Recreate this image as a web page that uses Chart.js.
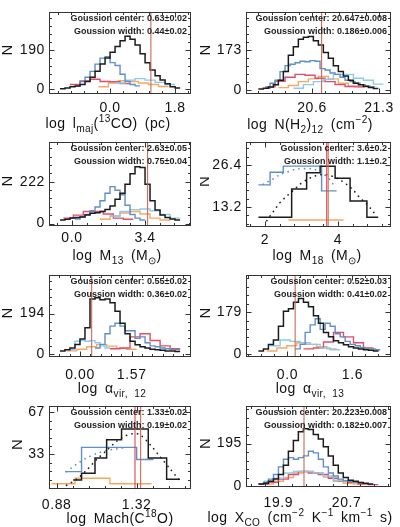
<!DOCTYPE html>
<html><head><meta charset="utf-8">
<script src="https://cdn.jsdelivr.net/npm/chart.js@4.4.0/dist/chart.umd.min.js"></script>
<style>
html,body{margin:0;padding:0;background:#fff;}
#wrap{position:relative;width:400px;height:527px;overflow:hidden;background:#fff;}
canvas{position:absolute;}
</style></head><body><div id="wrap"></div>
<script>
// ================= DATA =================
// Panel 1: log l_maj(13CO)
const p1XTicks=[0,1.8], p1XLabels=['0.0','1.8'], p1YTicks=[0,190], p1YLabels=['0','190'];
const p1BlackBins=[-1.385,0.1385], p1Black=[3,7,13,17,24,38,59,87,122,151,179,207,235,256,242,214,172,129,94,66,45,27,13,7];
const p1BlueBins=[-0.970,0.1385], p1Blue=[17,38,59,87,122,151,158,129,115,73,38,24,17];
const p1LBlueBins=[0.139,0.277], p1LBlue=[31,45,52,45,34,24];
const p1RedBins=[-1.108,0.277], p1Red=[24,41,49,38,37,28];
const p1OrangeBins=[-0.323,0.277], p1Orange=[13,31,42,38,31,24,14];
const p1VLine=[1.13];
const p1Text=['Goussion center: 0.63\u00b10.02','Goussion width: 0.44\u00b10.02'];

// Panel 2: log N(H2)_12
const p2XTicks=[20.6,21.3], p2XLabels=['20.6','21.3'], p2YTicks=[0,173], p2YLabels=['0','173'];
const p2BlackBins=[20.039,0.05225], p2Black=[3,6,12,22,41,79,150,188,220,229,233,214,195,163,137,105,79,60,41,28,22,15,9,5];
const p2BlueBins=[20.109,0.05225], p2Blue=[6,28,41,79,105,111,118,124,122,127,124,92,86,73,67,54,41,35,28,22,15,12];
const p2LBlueBins=[20.405,0.1045], p2LBlue=[6,22,35,45,67,67,50,41,24];
const p2RedBins=[20.109,0.1045], p2Red=[12,37,54,67,63,50,35,22,14,12];
const p2OrangeBins=[20.248,0.1045], p2Orange=[9,18,35,47,58,47,28,15,12];
const p2VLine=[20.70];
const p2Text=['Goussion center: 20.647\u00b10.008','Goussion width: 0.186\u00b10.006'];

// Panel 3: log M_13
const p3XTicks=[0,3.4], p3XLabels=['0.0','3.4'], p3YTicks=[0,222], p3YLabels=['0','222'];
const p3BlackBins=[-0.559,0.2329], p3Black=[19,23,29,32,35,45,55,58,64,74,93,129,161,209,265,302,298,209,121,72,45,32,24,19];
const p3BlueBins=[0.140,0.2329], p3Blue=[24,35,48,68,88,121,161,196,177,153,97,48,29,19];
const p3LBlueBins=[1.77,0.466], p3LBlue=[40,64,74,77,68,48,29];
const p3RedBins=[-0.404,0.466], p3Red=[29,45,64,64,51,29,23];
const p3OrangeBins=[1.304,0.466], p3Orange=[23,40,56,64,51,29,19];
const p3VLine=[3.52];
const p3Text=['Goussion center: 2.63\u00b10.05','Goussion width: 0.75\u00b10.04'];

// Panel 4: log M_18
const p4XTicks=[2,4], p4XLabels=['2','4'], p4YTicks=[13.2,26.4], p4YLabels=['13.2','26.4'];
const p4BlackEdges=[1.82,2.73,3.14,3.51,3.92,4.33,4.79,5.10], p4Black=[10.0,18.9,24.0,26.1,22.3,15.1,10.0];
const p4BlueEdges=[1.82,2.14,2.50,3.55,3.96], p4Blue=[20.2,24.2,26.1,18.3];
const p4OrangeEdges=[2.64,4.15], p4Orange=[9.1];
const p4FitX=[2.05,2.23,2.41,2.59,2.78,2.96,3.14,3.32,3.51,3.69,3.87,4.05,4.23,4.42,4.60,4.78,4.96,5.05];
const p4FitY=[8.9,11.8,14.6,16.6,18.5,20.4,21.8,22.8,23.4,23.4,22.8,21.8,20.4,18.5,16.1,14.2,11.8,10.3];
const p4BlueFitX=[1.95,2.18,2.41,2.64,2.87,3.10,3.32,3.55,3.78,3.92];
const p4BlueFitY=[20.4,21.8,23.4,24.4,25.2,25.3,25.2,24.0,21.8,19.4];
const p4VLine=[3.69,3.73];
const p4Text=['Goussion center: 3.6\u00b10.2','Goussion width: 1.1\u00b10.2'];

// Panel 5: log alpha_vir,12
const p5XTicks=[0,1.57], p5XLabels=['0.00','1.57'], p5YTicks=[0,194], p5YLabels=['0','194'];
const p5BlackBins=[-0.608,0.152], p5Black=[16,22,30,47,73,126,263,270,260,263,246,205,148,98,62,45,36,30,24,22,19,16,16,13];
const p5BlueBins=[0.456,0.152], p5Blue=[30,47,98,134,148,134,112,112,76,83,55,40,36,30,26,22,22];
const p5LBlueBins=[-0.304,0.152], p5LBlue=[22,62,65,62,65,55,40,30];
const p5RedBins=[0.912,0.304], p5Red=[26,30,83,98,66,40,26];
const p5OrangeBins=[-0.405,0.304], p5Orange=[16,24,36,46,39,29,24];
const p5VLine=[0.355];
const p5Text=['Goussion center: 0.55\u00b10.02','Goussion width: 0.36\u00b10.02'];

// Panel 6: log alpha_vir,13
const p6XTicks=[0,1.6], p6XLabels=['0.0','1.6'], p6YTicks=[0,179], p6YLabels=['0','179'];
const p6BlackBins=[-0.714,0.1232], p6Black=[14,23,42,61,119,183,193,221,237,221,202,164,132,93,74,58,49,40,32,27,23,19,17,14];
const p6BlueBins=[0.190,0.1232], p6Blue=[23,42,93,125,151,106,132,119,87,74,55,42,36,29,23,23,19];
const p6LBlueBins=[-0.426,0.2463], p6LBlue=[36,61,55,49,42,27,19];
const p6RedBins=[0.395,0.2463], p6Red=[23,27,52,93,74,49,27];
const p6OrangeBins=[-0.508,0.2463], p6Orange=[14,27,36,49,42,32,23];
const p6VLine=[0.19];
const p6Text=['Goussion center: 0.52\u00b10.03','Goussion width: 0.41\u00b10.02'];

// Panel 7: log Mach(C18O)
const p7XTicks=[0.88,1.32], p7XLabels=['0.88','1.32'], p7YTicks=[33,67], p7YLabels=['33','67'];
const p7BlackEdges=[0.971,1.017,1.091,1.155,1.237,1.384,1.485,1.558], p7Black=[12.1,17.7,30.0,44.8,53.5,30.0,12.8];
const p7BlueEdges=[0.926,1.017,1.320,1.412], p7Blue=[19.0,38.7,28.8];
const p7OrangeEdges=[0.852,0.981,1.173,1.402], p7Orange=[9.1,13.6,9.1];
const p7FitX=[0.935,0.990,1.045,1.100,1.155,1.210,1.265,1.302,1.338,1.393,1.448,1.503,1.558];
const p7FitY=[7.9,12.8,20.2,28.8,36.2,43.6,48.5,49.8,49.0,41.1,31.3,21.4,11.6];
const p7BlueFitX=[0.935,0.990,1.045,1.100,1.155,1.210,1.265];
const p7BlueFitY=[19.0,25.1,30.1,33.7,36.2,37.4,38.7];
const p7VLine=[1.311,1.342];
const p7Text=['Goussion center: 1.33\u00b10.02','Goussion width: 0.19\u00b10.02'];

// Panel 8: log X_CO
const p8XTicks=[19.9,20.7], p8XLabels=['19.9','20.7'], p8YTicks=[0,195], p8YLabels=['0','195'];
const p8BlackBins=[19.666,0.0585], p8Black=[11,14,23,33,54,96,160,209,249,263,259,237,216,181,139,96,61,40,28,23,18,14,11];
const p8BlueBins=[19.725,0.0585], p8Blue=[18,33,54,89,124,131,124,131,139,160,153,124,89,61,47,33,25,23,18];
const p8LBlueBins=[19.725,0.117], p8LBlue=[23,37,61,68,68,61,47,28,23,18];
const p8RedBins=[19.666,0.117], p8Red=[11,18,33,54,68,61,54,37,25,18,11,8];
const p8OrangeBins=[19.725,0.117], p8Orange=[11,23,40,61,68,61,42,23,14,11];
const p8VLine=[20.20];
const p8Text=['Goussion center: 20.223\u00b10.008','Goussion width: 0.182\u00b10.007'];

// ================= RENDERING =================
const FAM='"Liberation Sans", Arial, sans-serif';
const TS=14;      // tick label size
const TT=14;      // axis title size
const COL={black:'#1b1b1b', blue:'#5e8fc6', lblue:'#8ccaf0', red:'#e24d6c', orange:'#f6a862', vline:'#cc6a52', vred:'#e8404e'};

function uniEdges(b,n){const e=[];for(let i=0;i<=n;i++)e.push(b[0]+i*b[1]);return e;}
function stepPts(edges,counts){return edges.map((e,i)=>({x:e,y:counts[Math.min(i,counts.length-1)]}));}
function hist(edges,counts,color,w){return {data:stepPts(edges,counts),stepped:true,borderColor:color,borderWidth:w||1.4,pointRadius:0,fill:false};}
function histB(bins,counts,color,w){return hist(uniEdges(bins,counts.length),counts,color,w);}
function dots(xs,ys,color){return {data:xs.map((x,i)=>({x,y:ys[i]})),borderColor:color,borderWidth:1.7,borderDash:[0.1,5.5],borderCapStyle:'round',pointRadius:0,fill:false,tension:0.3};}

const S=(t,m)=>[t,m||0];
const BW=1.5;
const panels=[
 {col:0,ct:0,ch:135,f:{l:49,t:1,r:191,b:94},xr:[-1.69,2.24],yr:[-22,371],xt:p1XTicks,xl:p1XLabels,yt:p1YTicks,yl:p1YLabels,xly:108,ty:123,tx:108,nOff:41,
  title:[S('log l'),S('maj',-1),S('('),S('13',1),S('CO) (pc)')],text:p1Text,vl:p1VLine.map(v=>({x:v,c:COL.vline})),
  ds:[histB(p1BlackBins,p1Black,COL.black,BW),histB(p1BlueBins,p1Blue,COL.blue),histB(p1LBlueBins,p1LBlue,COL.lblue),histB(p1RedBins,p1Red,COL.red),histB(p1OrangeBins,p1Orange,COL.orange)]},
 {col:1,ct:0,ch:135,f:{l:246,t:1,r:391,b:94},xr:[19.91,21.425],yr:[-19,338],xt:p2XTicks,xl:p2XLabels,yt:p2YTicks,yl:p2YLabels,xly:108,ty:124,tx:310,nOff:40,
  title:[S('log N(H'),S('2',-1),S(')'),S('12',-1),S(' (cm'),S('\u22122',1),S(')')],text:p2Text,vl:p2VLine.map(v=>({x:v,c:COL.vline})),
  ds:[histB(p2BlackBins,p2Black,COL.black,BW),histB(p2BlueBins,p2Blue,COL.blue),histB(p2LBlueBins,p2LBlue,COL.lblue),histB(p2RedBins,p2Red,COL.red),histB(p2OrangeBins,p2Orange,COL.orange)]},
 {col:0,ct:130,ch:138,f:{l:49,t:134,r:191,b:226},xr:[-1.07,5.54],yr:[-13,431],xt:p3XTicks,xl:p3XLabels,yt:p3YTicks,yl:p3YLabels,xly:238,ty:255,tx:117,nOff:41,
  title:[S('log M'),S('13',-1),S(' (M'),S('\u2299',-1),S(')')],text:p3Text,vl:p3VLine.map(v=>({x:v,c:COL.vline})),
  ds:[histB(p3BlackBins,p3Black,COL.black,BW),histB(p3BlueBins,p3Blue,COL.blue),histB(p3LBlueBins,p3LBlue,COL.lblue),histB(p3RedBins,p3Red,COL.red),histB(p3OrangeBins,p3Orange,COL.orange)]},
 {col:1,ct:130,ch:138,f:{l:246,t:134,r:391,b:227},xr:[1.48,5.45],yr:[6.9,33.6],xt:p4XTicks,xl:p4XLabels,yt:p4YTicks,yl:p4YLabels,xly:240,ty:255,tx:317,nOff:41,
  title:[S('log M'),S('18',-1),S(' (M'),S('\u2299',-1),S(')')],text:p4Text,vl:[{x:p4VLine[0],c:COL.vred},{x:p4VLine[1],c:COL.vline}],
  ds:[hist(p4BlackEdges,p4Black,COL.black,BW),dots(p4FitX,p4FitY,COL.black),hist(p4BlueEdges,p4Blue,COL.blue),dots(p4BlueFitX,p4BlueFitY,COL.blue),hist(p4OrangeEdges,p4Orange,COL.orange)]},
 {col:0,ct:263,ch:138,f:{l:49,t:267,r:191,b:357},xr:[-0.94,3.37],yr:[-13,376],xt:p5XTicks,xl:p5XLabels,yt:p5YTicks,yl:p5YLabels,xly:375,ty:388,tx:112,nOff:41,
  title:[S('log '),S('\u03b1'),S('vir, 12',-1)],text:p5Text,vl:p5VLine.map(v=>({x:v,c:COL.vline})),
  ds:[histB(p5BlackBins,p5Black,COL.black,BW),histB(p5BlueBins,p5Blue,COL.blue),histB(p5LBlueBins,p5LBlue,COL.lblue),histB(p5RedBins,p5Red,COL.red),histB(p5OrangeBins,p5Orange,COL.orange)]},
 {col:1,ct:263,ch:138,f:{l:246,t:267,r:391,b:357},xr:[-1.02,2.55],yr:[-11.5,335],xt:p6XTicks,xl:p6XLabels,yt:p6YTicks,yl:p6YLabels,xly:375,ty:388,tx:310,nOff:40,
  title:[S('log '),S('\u03b1'),S('vir, 13',-1)],text:p6Text,vl:p6VLine.map(v=>({x:v,c:COL.vline})),
  ds:[histB(p6BlackBins,p6Black,COL.black,BW),histB(p6BlueBins,p6Blue,COL.blue),histB(p6LBlueBins,p6LBlue,COL.lblue),histB(p6RedBins,p6Red,COL.red),histB(p6OrangeBins,p6Orange,COL.orange)]},
 {col:0,ct:394,ch:133,f:{l:49,t:398,r:191,b:489},xr:[0.838,1.619],yr:[4.9,71.9],xt:p7XTicks,xl:p7XLabels,yt:p7YTicks,yl:p7YLabels,xly:505,ty:518,tx:120,nOff:31,
  title:[S('log Mach(C'),S('18',1),S('O)')],text:p7Text,vl:[{x:p7VLine[0],c:COL.vred},{x:p7VLine[1],c:COL.vline}],
  ds:[hist(p7BlackEdges,p7Black,COL.black,BW),dots(p7FitX,p7FitY,COL.black),hist(p7BlueEdges,p7Blue,COL.blue),dots(p7BlueFitX,p7BlueFitY,COL.blue),hist(p7OrangeEdges,p7Orange,COL.orange)]},
 {col:1,ct:394,ch:133,f:{l:246,t:400,r:391,b:487},xr:[19.52,21.22],yr:[-3,365],xt:p8XTicks,xl:p8XLabels,yt:p8YTicks,yl:p8YLabels,xly:503,ty:517,tx:300,nOff:40,
  title:[S('log X'),S('CO',-1),S(' (cm'),S('\u22122',1),S(' K'),S('\u22121',1),S(' km'),S('\u22121',1),S(' s)')],text:p8Text,vl:p8VLine.map(v=>({x:v,c:COL.vline})),
  ds:[histB(p8BlackBins,p8Black,COL.black,BW),histB(p8BlueBins,p8Blue,COL.blue),histB(p8LBlueBins,p8LBlue,COL.lblue),histB(p8RedBins,p8Red,COL.red),histB(p8OrangeBins,p8Orange,COL.orange)]}
];

function drawRich(ctx,segs,cx,cy,size){
  ctx.letterSpacing='0.4px';
  try{ctx.wordSpacing='3px';}catch(e){}
  let w=0;
  const parts=segs.map(([t,m])=>{const fs=m?size*0.72:size;ctx.font=fs+'px '+FAM;const tw=ctx.measureText(t).width;w+=tw;return {t,m,fs,tw};});
  let x=cx-w/2;const base=cy+size*0.36;
  ctx.textAlign='left';ctx.textBaseline='alphabetic';
  parts.forEach(p=>{ctx.font=p.fs+'px '+FAM;const dy=p.m===-1?size*0.28:(p.m===1?-size*0.42:0);ctx.fillText(p.t,x,base+dy);x+=p.tw;});
  ctx.letterSpacing='0px';
  try{ctx.wordSpacing='0px';}catch(e){}
}

function makeDecor(p,left){
  return {
    id:'decor',
    beforeDraw(chart){chart.ctx.letterSpacing='0.6px';},
    afterDatasetsDraw(chart){
      const {ctx,chartArea:a,scales:{x}}=chart;
      ctx.save();ctx.beginPath();ctx.rect(a.left,a.top,a.width,a.height);ctx.clip();
      p.vl.forEach(v=>{const px=x.getPixelForValue(v.x);ctx.strokeStyle=v.c;ctx.lineWidth=1.1;ctx.beginPath();ctx.moveTo(px,a.top);ctx.lineTo(px,a.bottom);ctx.stroke();});
      ctx.restore();
    },
    afterDraw(chart){
      const {ctx,chartArea:a,scales:{x,y}}=chart;
      ctx.letterSpacing='0px';
      ctx.save();
      ctx.strokeStyle='#333';ctx.lineWidth=1;
      const L=Math.round(a.left)+0.5,T=Math.round(a.top)+0.5,R=Math.round(a.right)-0.5,B=Math.round(a.bottom)-0.5;
      ctx.strokeRect(L,T,R-L,B-T);
      const minors=(t,min,max)=>{const st=(t[1]-t[0])/5;const out=[];let v=t[0]-Math.floor((t[0]-min)/st)*st;for(;v<=max+1e-9;v+=st)out.push(v);return out;};
      ctx.beginPath();
      minors(p.xt,p.xr[0],p.xr[1]).forEach(v=>{const px=Math.round(x.getPixelForValue(v))+0.5;const isM=p.xt.some(t=>Math.abs(t-v)<1e-6);const len=isM?5:2.5;ctx.moveTo(px,B);ctx.lineTo(px,B-len);ctx.moveTo(px,T);ctx.lineTo(px,T+len);});
      minors(p.yt,p.yr[0],p.yr[1]).forEach(v=>{const py=Math.round(y.getPixelForValue(v))+0.5;const isM=p.yt.some(t=>Math.abs(t-v)<1e-6);const len=isM?5:2.5;ctx.moveTo(L,py);ctx.lineTo(L+len,py);ctx.moveTo(R,py);ctx.lineTo(R-len,py);});
      ctx.stroke();
      // gaussian fit texts
      ctx.fillStyle='#222';ctx.font='bold 9px '+FAM;ctx.textAlign='right';ctx.textBaseline='middle';
      ctx.fillText(p.text[0],a.right-4,a.top+6.5);
      ctx.fillText(p.text[1],a.right-4,a.top+19.5);
      // N label
      ctx.save();ctx.fillStyle='#111';ctx.font='15px '+FAM;ctx.textAlign='center';ctx.textBaseline='middle';
      ctx.translate(a.left-p.nOff,(a.top+a.bottom)/2-3);ctx.rotate(-Math.PI/2);ctx.fillText('N',0,0);ctx.restore();
      // x title
      ctx.fillStyle='#111';
      drawRich(ctx,p.title,p.tx-left,p.ty-p.ct,TT);
      ctx.restore();
    }
  };
}

const wrap=document.getElementById('wrap');
panels.forEach(p=>{
  const left=p.col?200:0;
  const cv=document.createElement('canvas');
  cv.width=200;cv.height=p.ch;cv.style.left=left+'px';cv.style.top=p.ct+'px';
  cv.style.width='200px';cv.style.height=p.ch+'px';
  wrap.appendChild(cv);
  new Chart(cv,{
    type:'line',
    data:{datasets:p.ds},
    options:{
      responsive:false,animation:false,events:[],devicePixelRatio:1,
      layout:{autoPadding:false,padding:{left:0,top:p.f.t-p.ct,right:left+200-p.f.r,bottom:0}},
      plugins:{legend:{display:false},tooltip:{enabled:false}},
      elements:{line:{borderJoinStyle:'miter'}},
      scales:{
        x:{type:'linear',min:p.xr[0],max:p.xr[1],grid:{display:false,drawTicks:false},border:{display:false},
          afterBuildTicks:(s)=>{s.ticks=p.xt.map(v=>({value:v}));},
          afterFit:(s)=>{s.height=p.ct+p.ch-p.f.b;},
          ticks:{autoSkip:false,maxRotation:0,minRotation:0,padding:p.xly-p.f.b-0.6*TS,color:'#111',font:{family:FAM,size:TS},callback:(v,i)=>p.xl[i]}},
        y:{type:'linear',min:p.yr[0],max:p.yr[1],grid:{display:false,drawTicks:false},border:{display:false},
          afterBuildTicks:(s)=>{s.ticks=p.yt.map(v=>({value:v}));},
          afterFit:(s)=>{s.width=p.f.l-left;},
          ticks:{autoSkip:false,padding:4,color:'#111',font:{family:FAM,size:TS},callback:(v,i)=>p.yl[i]}}
      }
    },
    plugins:[makeDecor(p,left)]
  });
});
</script>
</body></html>
